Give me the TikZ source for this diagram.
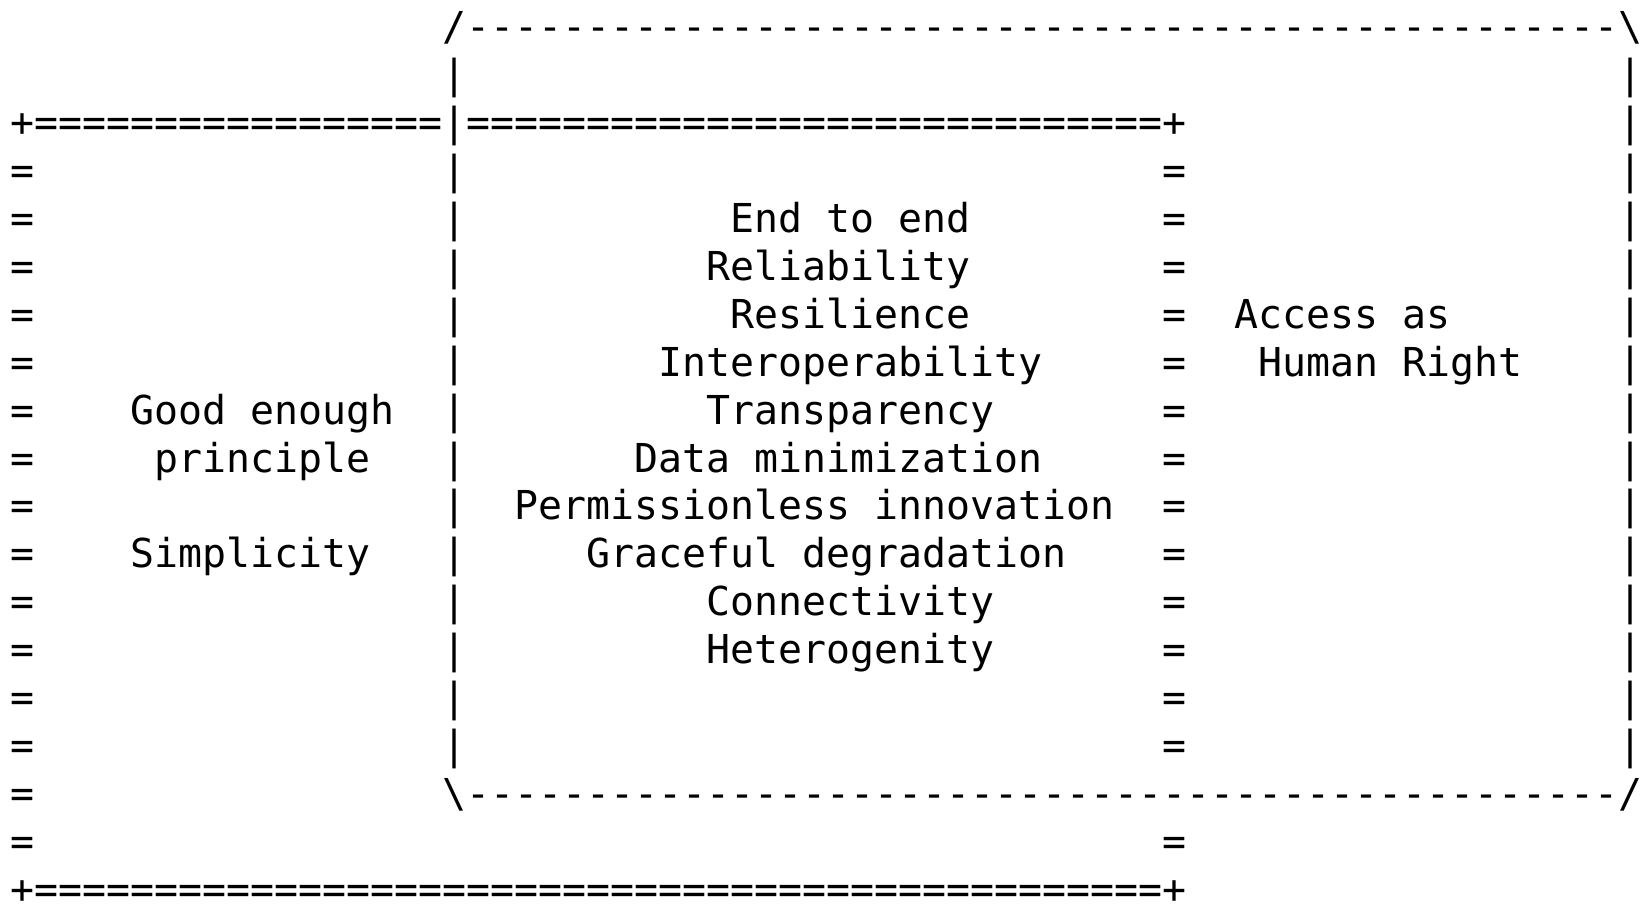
\documentclass[tikz,border=0pt]{standalone}
\usepackage{fontspec}
\setmonofont{DejaVu Sans Mono}
\ExplSyntaxOn
\cs_new:Npn \repchar #1#2 { \prg_replicate:nn {#1} {#2} }
\ExplSyntaxOff
\begin{document}
\begin{tikzpicture}[x=12pt,y=-23.95pt,
  asc/.style={font=\ttfamily\fontsize{19.93pt}{24pt}\selectfont, inner sep=0pt, outer sep=0pt, anchor=base west, text=black}]
\useasboundingbox (0pt,0pt) rectangle (822pt,-452pt);
\begin{scope}[shift={(0.4458,0.8539)}]
  % outer dashed frame (right box)
  \node[asc] (topline) at (18,0) {/\repchar{48}{-}\textbackslash};
  \node[asc] (botline) at (18,16) {\textbackslash\repchar{48}{-}/};
  \foreach \r in {1,...,15} \node[asc] (rbar\r) at (67,\r) {|};
  \foreach \r in {1,3,4,...,15} \node[asc] (mbar\r) at (18,\r) {|};
  % double frame (left box)
  \node[asc] (eqtop) at (0,2) {+\repchar{17}{=}|\repchar{29}{=}+};
  \node[asc] (eqbot) at (0,18) {+\repchar{47}{=}+};
  \foreach \r in {3,...,17} \node[asc] (leq\r) at (0,\r) {=};
  \foreach \r in {3,...,15,17} \node[asc] (req\r) at (48,\r) {=};
  % left texts
  \node[asc] (good) at (5,8) {Good enough};
  \node[asc] (princ) at (6,9) {principle};
  \node[asc] (simp) at (5,11) {Simplicity};
  % middle texts
  \node[asc] (e2e) at (30,4) {End to end};
  \node[asc] (rel) at (29,5) {Reliability};
  \node[asc] (res) at (30,6) {Resilience};
  \node[asc] (inter) at (27,7) {Interoperability};
  \node[asc] (trans) at (29,8) {Transparency};
  \node[asc] (datam) at (26,9) {Data minimization};
  \node[asc] (perm) at (21,10) {Permissionless innovation};
  \node[asc] (grace) at (24,11) {Graceful degradation};
  \node[asc] (conn) at (29,12) {Connectivity};
  \node[asc] (het) at (29,13) {Heterogenity};
  % right texts
  \node[asc] (acc) at (51,6) {Access as};
  \node[asc] (hum) at (52,7) {Human Right};
\end{scope}
\end{tikzpicture}
\end{document}
